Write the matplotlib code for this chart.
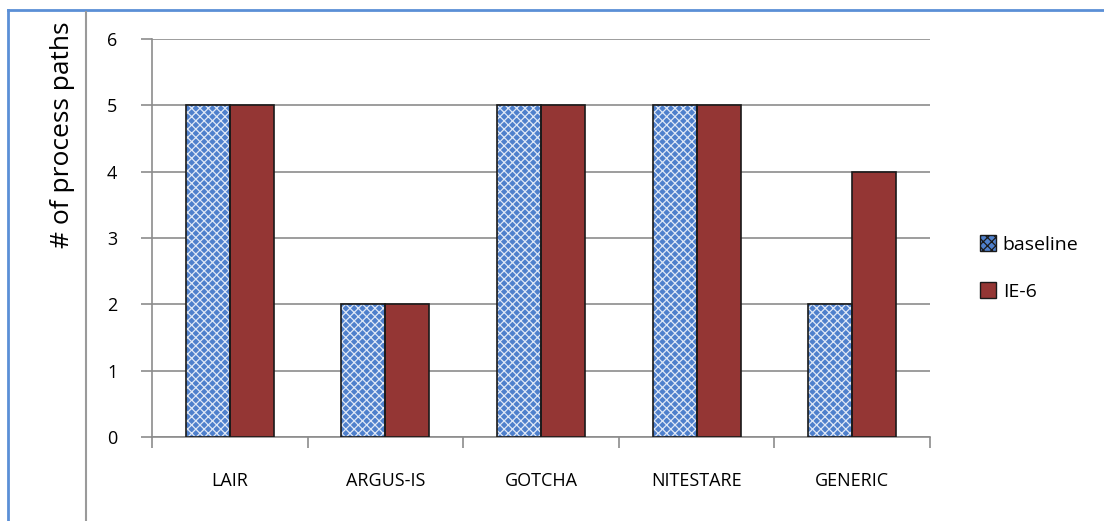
import matplotlib
matplotlib.use("Agg")
import matplotlib.pyplot as plt
import numpy as np
from matplotlib.patches import Patch
from matplotlib.lines import Line2D

categories = ["LAIR", "ARGUS-IS", "GOTCHA", "NITESTARE", "GENERIC"]
baseline = [5, 2, 5, 5, 2]
ie6 = [5, 2, 5, 5, 4]
yticks = [0, 1, 2, 3, 4, 5, 6]

plt.rcParams['font.family'] = ['Open Sans', 'DejaVu Sans']
plt.rcParams['hatch.linewidth'] = 0.9

fig = plt.figure(figsize=(11.04, 5.21), dpi=100)
W, H = 1104, 521
ax = fig.add_axes([152 / W, 1 - 437 / H, (930 - 152) / W, (437 - 39) / H])

x = np.arange(len(categories))
bw = 0.283
blue = '#4f80cc'
red = '#943634'

# baseline bars: hatch layer then black outline
ax.bar(x - bw / 2, baseline, bw, color=blue, edgecolor='#dfe8f6', hatch='xxxx', linewidth=0, zorder=3)
ax.bar(x - bw / 2, baseline, bw, fill=False, edgecolor='#1a1a1a', linewidth=1.2, zorder=4)
ax.bar(x + bw / 2, ie6, bw, color=red, edgecolor='#1a1a1a', linewidth=1.2, zorder=3)

ax.set_xlim(-0.5, len(categories) - 0.5)
ax.set_ylim(0, 6)
ax.set_yticks(yticks)
ax.set_yticklabels([str(v) for v in yticks], fontsize=13)
ax.yaxis.grid(True, color='#8c8c8c', linewidth=1.2, zorder=0)
ax.set_axisbelow(True)

ax.set_xticks(np.arange(-0.5, len(categories), 1.0))
ax.set_xticklabels([])
ax.set_xticks(x, minor=True)
ax.set_xticklabels(categories, minor=True, fontsize=13)
ax.tick_params(axis='x', which='minor', length=0, pad=25)
ax.tick_params(axis='x', which='major', length=8, color='#8c8c8c', width=1.2)
ax.tick_params(axis='y', length=8, color='#8c8c8c', width=1.2, pad=17)

for s in ['top', 'right']:
    ax.spines[s].set_visible(False)
for s in ['left', 'bottom']:
    ax.spines[s].set_color('#8c8c8c')
    ax.spines[s].set_linewidth(1.2)

# y label
fig.text(63 / W, 1 - 135 / H, '# of process paths', rotation=90, ha='center', va='center', fontsize=19)

# legend
handles = [Patch(facecolor=blue, edgecolor='#1a1a1a', hatch='xxxx', label='baseline'),
           Patch(facecolor=red, edgecolor='#1a1a1a', label='IE-6')]
leg = fig.legend(handles=handles, loc='center left', bbox_to_anchor=(962 / W, 1 - 268 / H),
                 frameon=False, fontsize=14, handlelength=0.85, handleheight=0.85,
                 handletextpad=0.35, labelspacing=1.45)

# decorative frame lines
fig.add_artist(Line2D([8 / W, 8 / W], [0, 1 - 10 / H], color='#5b8fd6', linewidth=2, transform=fig.transFigure))
fig.add_artist(Line2D([8 / W, 1], [1 - 10 / H, 1 - 10 / H], color='#5b8fd6', linewidth=2, transform=fig.transFigure))
fig.add_artist(Line2D([86 / W, 86 / W], [0, 1 - 12 / H], color='#9a9a9a', linewidth=1.5, transform=fig.transFigure))

fig.savefig('out.png', dpi=100)
